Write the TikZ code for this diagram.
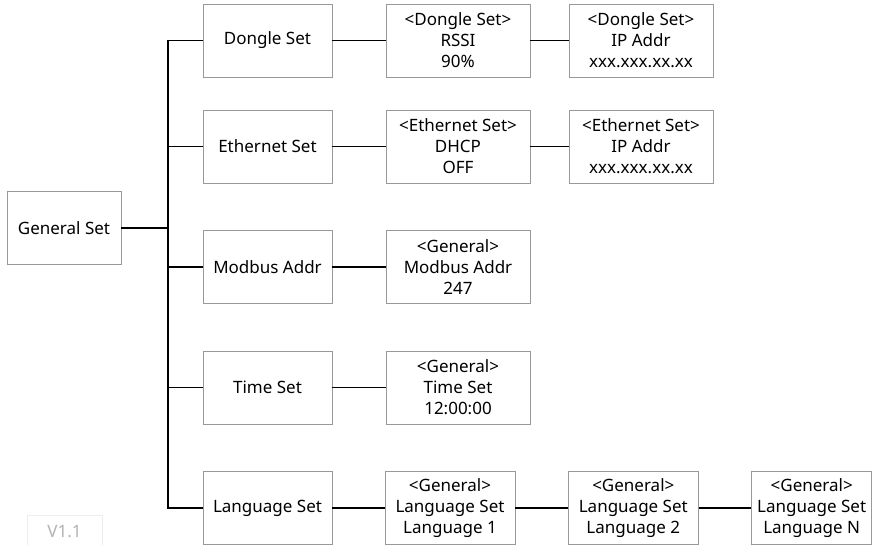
\documentclass[tikz,border=0pt]{standalone}
\usepackage{fontspec}
\setmainfont{Noto Sans}

\begin{document}
\begin{tikzpicture}[x=1pt, y=-1pt, every node/.style={font=\fontsize{17}{21}\selectfont},
	box/.style={draw=black!40, line width=0.9pt, align=center, minimum height=73pt, inner sep=0pt},
	link/.style={line width=1.6pt}]
	\useasboundingbox (0,0) rectangle (881,545);
	\node[box, minimum width=114pt] (G) at (64,228) {General Set};
	\node[box, minimum width=129pt] (D) at (267.5,40.5) {Dongle Set};
	\node[box, minimum width=129pt] (E) at (267.5,146.5) {Ethernet Set};
	\node[box, minimum width=129pt] (M) at (267.5,267) {Modbus Addr};
	\node[box, minimum width=129pt] (T) at (267.5,387.5) {Time Set};
	\node[box, minimum width=129pt] (L) at (267.5,508) {Language Set};
	\node[box, minimum width=144pt] (D1) at (458,40.5) {<Dongle Set>\\RSSI\\90\%};
	\node[box, minimum width=144pt] (D2) at (641,40.5) {<Dongle Set>\\IP Addr\\xxx.xxx.xx.xx};
	\node[box, minimum width=144pt] (E1) at (458,146.5) {<Ethernet Set>\\DHCP\\OFF};
	\node[box, minimum width=144pt] (E2) at (641,146.5) {<Ethernet Set>\\IP Addr\\xxx.xxx.xx.xx};
	\node[box, minimum width=144pt] (M1) at (458,267) {<General>\\Modbus Addr\\247};
	\node[box, minimum width=144pt] (T1) at (458,387.5) {<General>\\Time Set\\12:00:00};
	\node[box, minimum width=130pt] (L1) at (450,508) {<General>\\Language Set\\Language 1};
	\node[box, minimum width=130pt] (L2) at (633.3,508) {<General>\\Language Set\\Language 2};
	\node[box, minimum width=120pt] (L3) at (811.7,508) {<General>\\Language Set\\Language N};
	\node[draw=black!7, text=black!30, minimum width=75pt, minimum height=34pt, inner sep=0pt] (V) at (64.5,532) {V1.1};
	\coordinate (bus) at (168,228);
	\draw[link] (G) -- (bus);
	\draw[link] (bus) |- (D);
	\draw[link] (bus) |- (E);
	\draw[link] (bus) |- (M);
	\draw[link] (bus) |- (T);
	\draw[link] (bus) |- (L);
	\draw[link] (D) -- (D1);
	\draw[link] (D1) -- (D2);
	\draw[link] (E) -- (E1);
	\draw[link] (E1) -- (E2);
	\draw[link] (M) -- (M1);
	\draw[link] (T) -- (T1);
	\draw[link] (L) -- (L1);
	\draw[link] (L1) -- (L2);
	\draw[link] (L2) -- (L3);
\end{tikzpicture}
\end{document}
